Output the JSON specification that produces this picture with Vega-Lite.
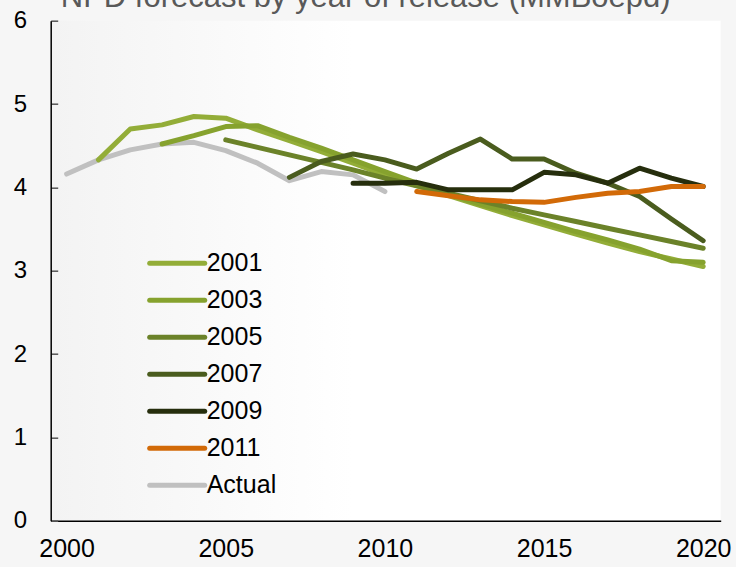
{
  "$schema": "https://vega.github.io/schema/vega-lite/v6.json",
  "autosize": {"type": "none"},
  "width": 670,
  "height": 500,
  "padding": {"left": 50.7, "top": 20.7, "right": 15.3, "bottom": 46.3},
  "background": "#f6f6f6",
  "title": {
    "text": "NPD forecast by year of release (MMBoepd)",
    "fontSize": 31,
    "font": "Liberation Sans",
    "fontWeight": "normal",
    "color": "#595959",
    "anchor": "middle",
    "baseline": "alphabetic",
    "offset": 6,
    "dy": 35,
    "dx": -20
  },
  "config": {
    "view": {
      "stroke": null,
      "fill": {
        "gradient": "linear",
        "x1": 0, "y1": 0, "x2": 1, "y2": 0,
        "stops": [
          {"offset": 0, "color": "#f3f3f3"},
          {"offset": 0.45, "color": "#ffffff"},
          {"offset": 1, "color": "#ffffff"}
        ]
      }
    },
    "font": "Liberation Sans"
  },
  "data": {
    "values": [
      {"series": "Actual", "year": 2000, "value": 4.16},
      {"series": "Actual", "year": 2001, "value": 4.33},
      {"series": "Actual", "year": 2002, "value": 4.45},
      {"series": "Actual", "year": 2003, "value": 4.52},
      {"series": "Actual", "year": 2004, "value": 4.54},
      {"series": "Actual", "year": 2005, "value": 4.44},
      {"series": "Actual", "year": 2006, "value": 4.29},
      {"series": "Actual", "year": 2007, "value": 4.08},
      {"series": "Actual", "year": 2008, "value": 4.19},
      {"series": "Actual", "year": 2009, "value": 4.15},
      {"series": "Actual", "year": 2010, "value": 3.95},

      {"series": "2001", "year": 2001, "value": 4.33},
      {"series": "2001", "year": 2002, "value": 4.70},
      {"series": "2001", "year": 2003, "value": 4.75},
      {"series": "2001", "year": 2004, "value": 4.85},
      {"series": "2001", "year": 2005, "value": 4.83},
      {"series": "2001", "year": 2006, "value": 4.69},
      {"series": "2001", "year": 2007, "value": 4.56},
      {"series": "2001", "year": 2008, "value": 4.43},
      {"series": "2001", "year": 2009, "value": 4.29},
      {"series": "2001", "year": 2010, "value": 4.15},
      {"series": "2001", "year": 2011, "value": 4.02},
      {"series": "2001", "year": 2012, "value": 3.90},
      {"series": "2001", "year": 2013, "value": 3.78},
      {"series": "2001", "year": 2014, "value": 3.66},
      {"series": "2001", "year": 2015, "value": 3.55},
      {"series": "2001", "year": 2016, "value": 3.44},
      {"series": "2001", "year": 2017, "value": 3.33},
      {"series": "2001", "year": 2018, "value": 3.23},
      {"series": "2001", "year": 2019, "value": 3.14},
      {"series": "2001", "year": 2020, "value": 3.05},

      {"series": "2003", "year": 2003, "value": 4.52},
      {"series": "2003", "year": 2004, "value": 4.62},
      {"series": "2003", "year": 2005, "value": 4.73},
      {"series": "2003", "year": 2006, "value": 4.74},
      {"series": "2003", "year": 2007, "value": 4.60},
      {"series": "2003", "year": 2008, "value": 4.47},
      {"series": "2003", "year": 2009, "value": 4.33},
      {"series": "2003", "year": 2010, "value": 4.19},
      {"series": "2003", "year": 2011, "value": 4.05},
      {"series": "2003", "year": 2012, "value": 3.92},
      {"series": "2003", "year": 2013, "value": 3.80},
      {"series": "2003", "year": 2014, "value": 3.69},
      {"series": "2003", "year": 2015, "value": 3.58},
      {"series": "2003", "year": 2016, "value": 3.47},
      {"series": "2003", "year": 2017, "value": 3.37},
      {"series": "2003", "year": 2018, "value": 3.26},
      {"series": "2003", "year": 2019, "value": 3.12},
      {"series": "2003", "year": 2020, "value": 3.10},

      {"series": "2005", "year": 2005, "value": 4.57},
      {"series": "2005", "year": 2006, "value": 4.48},
      {"series": "2005", "year": 2007, "value": 4.39},
      {"series": "2005", "year": 2008, "value": 4.30},
      {"series": "2005", "year": 2009, "value": 4.21},
      {"series": "2005", "year": 2010, "value": 4.11},
      {"series": "2005", "year": 2011, "value": 4.02},
      {"series": "2005", "year": 2012, "value": 3.93},
      {"series": "2005", "year": 2013, "value": 3.84},
      {"series": "2005", "year": 2014, "value": 3.75},
      {"series": "2005", "year": 2015, "value": 3.67},
      {"series": "2005", "year": 2016, "value": 3.59},
      {"series": "2005", "year": 2017, "value": 3.51},
      {"series": "2005", "year": 2018, "value": 3.43},
      {"series": "2005", "year": 2019, "value": 3.35},
      {"series": "2005", "year": 2020, "value": 3.27},

      {"series": "2007", "year": 2007, "value": 4.12},
      {"series": "2007", "year": 2008, "value": 4.31},
      {"series": "2007", "year": 2009, "value": 4.40},
      {"series": "2007", "year": 2010, "value": 4.33},
      {"series": "2007", "year": 2011, "value": 4.22},
      {"series": "2007", "year": 2012, "value": 4.41},
      {"series": "2007", "year": 2013, "value": 4.58},
      {"series": "2007", "year": 2014, "value": 4.34},
      {"series": "2007", "year": 2015, "value": 4.34},
      {"series": "2007", "year": 2016, "value": 4.17},
      {"series": "2007", "year": 2017, "value": 4.05},
      {"series": "2007", "year": 2018, "value": 3.89},
      {"series": "2007", "year": 2019, "value": 3.62},
      {"series": "2007", "year": 2020, "value": 3.36},

      {"series": "2009", "year": 2009, "value": 4.05},
      {"series": "2009", "year": 2010, "value": 4.05},
      {"series": "2009", "year": 2011, "value": 4.06},
      {"series": "2009", "year": 2012, "value": 3.97},
      {"series": "2009", "year": 2013, "value": 3.97},
      {"series": "2009", "year": 2014, "value": 3.97},
      {"series": "2009", "year": 2015, "value": 4.18},
      {"series": "2009", "year": 2016, "value": 4.15},
      {"series": "2009", "year": 2017, "value": 4.05},
      {"series": "2009", "year": 2018, "value": 4.23},
      {"series": "2009", "year": 2019, "value": 4.11},
      {"series": "2009", "year": 2020, "value": 4.01},

      {"series": "2011", "year": 2011, "value": 3.95},
      {"series": "2011", "year": 2012, "value": 3.90},
      {"series": "2011", "year": 2013, "value": 3.85},
      {"series": "2011", "year": 2014, "value": 3.83},
      {"series": "2011", "year": 2015, "value": 3.82},
      {"series": "2011", "year": 2016, "value": 3.88},
      {"series": "2011", "year": 2017, "value": 3.93},
      {"series": "2011", "year": 2018, "value": 3.95},
      {"series": "2011", "year": 2019, "value": 4.01},
      {"series": "2011", "year": 2020, "value": 4.01}
    ]
  },
  "mark": {"type": "line", "strokeWidth": 5, "strokeCap": "round", "strokeJoin": "round"},
  "encoding": {
    "x": {
      "field": "year",
      "type": "quantitative",
      "scale": {"domain": [1999.5, 2020.55], "nice": false, "zero": false},
      "axis": {
        "title": null,
        "values": [2000, 2005, 2010, 2015, 2020],
        "format": "d",
        "ticks": false,
        "grid": false,
        "domainColor": "#000000",
        "domainWidth": 1.5,
        "labelFontSize": 25,
        "labelColor": "#000000",
        "labelPadding": 16,
        "labelFlush": false
      }
    },
    "y": {
      "field": "value",
      "type": "quantitative",
      "scale": {"domain": [0, 6], "nice": false},
      "axis": {
        "title": null,
        "values": [0, 1, 2, 3, 4, 5, 6],
        "grid": false,
        "domainColor": "#000000",
        "domainWidth": 1.5,
        "tickColor": "#555555",
        "tickWidth": 1.5,
        "tickSize": -7,
        "labelFontSize": 24,
        "labelColor": "#000000",
        "labelPadding": 31
      }
    },
    "color": {
      "field": "series",
      "type": "nominal",
      "sort": ["2001", "2003", "2005", "2007", "2009", "2011", "Actual"],
      "scale": {
        "domain": ["2001", "2003", "2005", "2007", "2009", "2011", "Actual"],
        "range": ["#93ad38", "#86a22e", "#6b8229", "#4a5c1e", "#262e0d", "#d26a08", "#c0c0c0"]
      },
      "legend": {
        "orient": "none",
        "legendX": 114,
        "legendY": 230,
        "title": null,
        "symbolType": "M-5.5,0H5.5",
        "symbolSize": 100,
        "symbolStrokeWidth": 5,
        "labelFontSize": 25,
        "labelColor": "#000000",
        "labelOffset": 17,
        "rowPadding": 11,
        "encode": {
          "symbols": {"update": {"strokeCap": {"value": "round"}}}
        }
      }
    }
  }
}
